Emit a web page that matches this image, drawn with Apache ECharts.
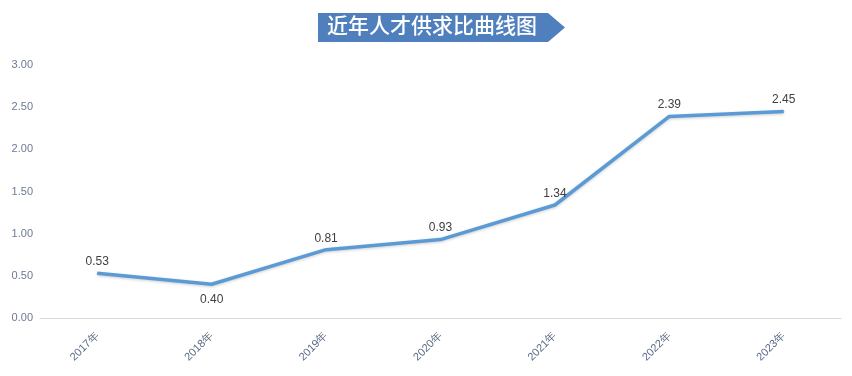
<!DOCTYPE html>
<html>
<head>
<meta charset="utf-8">
<script src="https://cdn.jsdelivr.net/npm/echarts@6/dist/echarts.min.js"></script>
<style>
  html, body { margin: 0; padding: 0; background: #fff; }
  #chart { width: 852px; height: 376px; }
</style>
</head>
<body>
<div id="chart"></div>
<script>
const years = ['2017年', '2018年', '2019年', '2020年', '2021年', '2022年', '2023年']
const ratio = [0.53, 0.40, 0.81, 0.93, 1.34, 2.39, 2.45]
const labelBelow = ['2018年']

const chart = echarts.init(document.getElementById('chart'))

let option = {
  animation: false,
  graphic: [
    {
      type: 'polygon',
      shape: { points: [[318, 13], [548, 13], [565, 27.5], [548, 42], [318, 42]] },
      style: { fill: '#4f7fbd' },
    },
    {
      type: 'text',
      left: 327,
      top: 15,
      style: {
        text: '近年人才供求比曲线图',
        fill: '#fff',
        font: '500 21px "Noto Sans CJK SC"',
      },
    },
  ],
  grid: {
    top: 65,
    bottom: 58,
    left: 40,
    right: 11,
  },
  xAxis: {
    type: 'category',
    boundaryGap: true,
    data: years,
    axisLine: { lineStyle: { color: '#d9d9d9', width: 1 } },
    axisTick: { show: false },
    axisLabel: {
      rotate: 45,
      color: '#5a6a85',
      fontSize: 11,
      margin: 16,
    },
  },
  yAxis: {
    type: 'value',
    min: 0,
    max: 3,
    interval: 0.5,
    splitLine: { show: false },
    axisLine: { show: false },
    axisLabel: {
      color: '#6b7a95',
      fontSize: 11,
      margin: 7,
      formatter: (v) => v.toFixed(2),
    },
  },
  series: [
    {
      type: 'line',
      data: ratio.map((v, i) => {
        const below = labelBelow.includes(years[i])
        return {
          value: v,
          label: { position: below ? 'bottom' : 'top', distance: below ? 9 : 5 },
        }
      }),
      symbol: 'circle',
      symbolSize: 1,
      showSymbol: true,
      itemStyle: { color: '#5b9bd5' },
      lineStyle: {
        color: '#5b9bd5',
        width: 3.5,
        shadowColor: 'rgba(0,0,0,0.2)',
        shadowBlur: 3,
        shadowOffsetY: 1,
      },
      label: {
        show: true,
        color: '#404040',
        fontSize: 12,
        formatter: (p) => p.value.toFixed(2),
      },
    },
  ],
}

chart.setOption(option)
</script>
</body>
</html>
